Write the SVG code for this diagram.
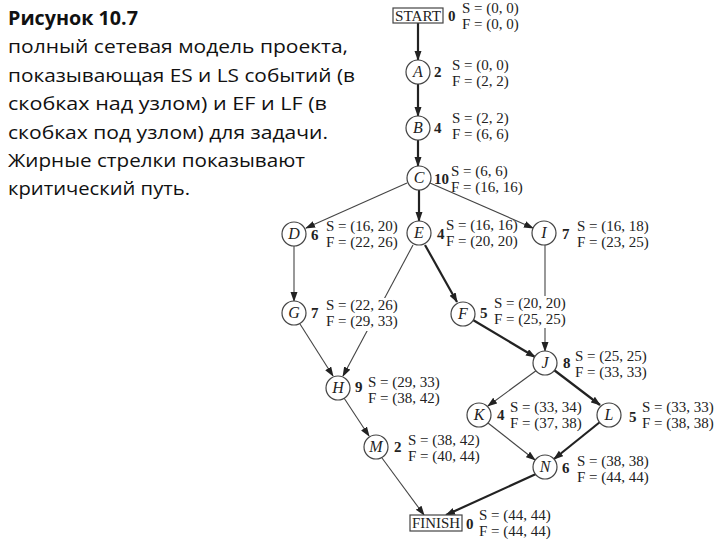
<svg xmlns="http://www.w3.org/2000/svg" width="720" height="540" viewBox="0 0 720 540">
<style>
.cap{font-family:"Open Sans","Noto Sans","DejaVu Sans",sans-serif;font-size:19px;fill:#111}
.t{font-family:"Liberation Serif","Times New Roman",serif;font-size:15px;fill:#222}
.n{font-family:"Liberation Serif","Times New Roman",serif;font-size:16px;font-style:italic;fill:#222;text-anchor:middle}
.d{font-family:"Liberation Serif","Times New Roman",serif;font-size:15px;font-weight:bold;fill:#222}
.c{fill:#fff;stroke:#444;stroke-width:1.2}
.b{fill:#fff;stroke:#444;stroke-width:1.2}
.bg{fill:#fff}
.thin{stroke:#444;stroke-width:1.1;fill:none;marker-end:url(#ah)}
.bold{stroke:#222;stroke-width:2.2;fill:none;marker-end:url(#ah)}
</style>
<defs>
<marker id="ah" markerUnits="userSpaceOnUse" markerWidth="10" markerHeight="8" refX="9" refY="3.5" orient="auto">
<path d="M0,0 L10,3.5 L0,7 Z" fill="#222"/>
</marker>
</defs>
<rect width="720" height="540" fill="#fff"/>
<g id="caption">
<text class="cap" x="8" y="25" font-weight="bold" textLength="130" lengthAdjust="spacingAndGlyphs">Рисунок 10.7</text>
<text class="cap" x="8" y="53" textLength="340" lengthAdjust="spacingAndGlyphs">полный сетевая модель проекта,</text>
<text class="cap" x="8" y="82" textLength="347" lengthAdjust="spacingAndGlyphs">показывающая ES и LS событий (в</text>
<text class="cap" x="8" y="110" textLength="319" lengthAdjust="spacingAndGlyphs">скобках над узлом) и EF и LF (в</text>
<text class="cap" x="8" y="139" textLength="320" lengthAdjust="spacingAndGlyphs">скобках под узлом) для задачи.</text>
<text class="cap" x="8" y="167" textLength="297" lengthAdjust="spacingAndGlyphs">Жирные стрелки показывают</text>
<text class="cap" x="8" y="195" textLength="182" lengthAdjust="spacingAndGlyphs">критический путь.</text>
</g>
<g id="connectors">
<line class="bold" x1="418" y1="23" x2="418" y2="60"/>
<line class="bold" x1="418" y1="84" x2="418" y2="116"/>
<line class="bold" x1="418" y1="140" x2="418" y2="166"/>
<line class="bold" x1="419" y1="190" x2="419" y2="221"/>
<line class="thin" x1="407" y1="183" x2="306" y2="228"/>
<line class="thin" x1="430" y1="183" x2="533" y2="228"/>
<line class="thin" x1="294" y1="246" x2="294" y2="301"/>
<line class="thin" x1="300" y1="324" x2="333" y2="376"/>
<line class="thin" x1="413" y1="245" x2="343" y2="376"/>
<line class="bold" x1="425" y1="245" x2="457" y2="302"/>
<line class="bold" x1="473" y1="320" x2="535" y2="357"/>
<line class="thin" x1="545" y1="244" x2="545" y2="351"/>
<line class="thin" x1="344" y1="398" x2="369" y2="436"/>
<line class="thin" x1="382" y1="458" x2="424" y2="515"/>
<line class="thin" x1="537" y1="370" x2="488" y2="406"/>
<line class="bold" x1="554" y1="370" x2="600" y2="405"/>
<line class="thin" x1="488" y1="423" x2="535" y2="460"/>
<line class="bold" x1="600" y1="422" x2="554" y2="459"/>
<line class="bold" x1="536" y1="474" x2="446" y2="515"/>
</g>
<g id="START">
<rect class="b" x="393" y="8" width="50" height="15"/>
<text class="t" x="418" y="21" text-anchor="middle" textLength="46" lengthAdjust="spacingAndGlyphs">START</text>
<text class="d" x="448" y="21">0</text>
<text class="t" x="462" y="13">S = (0, 0)</text>
<text class="t" x="462" y="29">F = (0, 0)</text>
</g>
<g id="A">
<circle class="c" cx="418" cy="72" r="12"/>
<text class="n" x="418" y="77">A</text>
<text class="d" x="434" y="77">2</text>
<text class="t" x="452" y="70">S = (0, 0)</text>
<text class="t" x="452" y="86">F = (2, 2)</text>
</g>
<g id="B">
<circle class="c" cx="418" cy="128" r="12"/>
<text class="n" x="418" y="133">B</text>
<text class="d" x="434" y="133">4</text>
<text class="t" x="452" y="123">S = (2, 2)</text>
<text class="t" x="452" y="139">F = (6, 6)</text>
</g>
<g id="C">
<circle class="c" cx="419" cy="178" r="12"/>
<text class="n" x="419" y="183">C</text>
<text class="d" x="434" y="184">10</text>
<text class="t" x="451" y="176">S = (6, 6)</text>
<text class="t" x="451" y="192">F = (16, 16)</text>
</g>
<g id="D">
<circle class="c" cx="294" cy="234" r="12"/>
<text class="n" x="294" y="239">D</text>
<text class="d" x="311" y="240">6</text>
<text class="t" x="326" y="231">S = (16, 20)</text>
<text class="t" x="326" y="247">F = (22, 26)</text>
</g>
<g id="E">
<circle class="c" cx="419" cy="233" r="12"/>
<text class="n" x="419" y="238">E</text>
<text class="d" x="437" y="239">4</text>
<text class="t" x="446" y="230">S = (16, 16)</text>
<text class="t" x="446" y="246">F = (20, 20)</text>
</g>
<g id="I">
<circle class="c" cx="544" cy="233" r="12"/>
<text class="n" x="544" y="238">I</text>
<text class="d" x="562" y="239">7</text>
<text class="t" x="577" y="231">S = (16, 18)</text>
<text class="t" x="577" y="247">F = (23, 25)</text>
</g>
<g id="G">
<circle class="c" cx="294" cy="313" r="12"/>
<text class="n" x="294" y="318">G</text>
<text class="d" x="311" y="318">7</text>
<rect class="bg" x="325" y="298" width="74" height="33"/>
<text class="t" x="326" y="310">S = (22, 26)</text>
<text class="t" x="326" y="326">F = (29, 33)</text>
</g>
<g id="F">
<circle class="c" cx="463" cy="314" r="12"/>
<text class="n" x="463" y="319">F</text>
<text class="d" x="480" y="318">5</text>
<rect class="bg" x="493" y="296" width="75" height="32"/>
<text class="t" x="494" y="308">S = (20, 20)</text>
<text class="t" x="494" y="324">F = (25, 25)</text>
</g>
<g id="J">
<circle class="c" cx="545" cy="363" r="12"/>
<text class="n" x="545" y="368">J</text>
<text class="d" x="563" y="368">8</text>
<text class="t" x="575" y="361">S = (25, 25)</text>
<text class="t" x="575" y="377">F = (33, 33)</text>
</g>
<g id="H">
<circle class="c" cx="338" cy="388" r="12"/>
<text class="n" x="338" y="393">H</text>
<text class="d" x="355" y="392">9</text>
<text class="t" x="368" y="387">S = (29, 33)</text>
<text class="t" x="368" y="403">F = (38, 42)</text>
</g>
<g id="K">
<circle class="c" cx="479" cy="415" r="12"/>
<text class="n" x="479" y="420">K</text>
<text class="d" x="497" y="420">4</text>
<text class="t" x="510" y="412">S = (33, 34)</text>
<text class="t" x="510" y="428">F = (37, 38)</text>
</g>
<g id="L">
<circle class="c" cx="609" cy="415" r="12"/>
<text class="n" x="609" y="420">L</text>
<text class="d" x="629" y="422">5</text>
<text class="t" x="642" y="412">S = (33, 33)</text>
<text class="t" x="642" y="428">F = (38, 38)</text>
</g>
<g id="M">
<circle class="c" cx="376" cy="447" r="12"/>
<text class="n" x="376" y="452">M</text>
<text class="d" x="394" y="452">2</text>
<text class="t" x="408" y="445">S = (38, 42)</text>
<text class="t" x="408" y="461">F = (40, 44)</text>
</g>
<g id="N">
<circle class="c" cx="545" cy="467" r="12"/>
<text class="n" x="545" y="472">N</text>
<text class="d" x="562" y="473">6</text>
<text class="t" x="577" y="466">S = (38, 38)</text>
<text class="t" x="577" y="482">F = (44, 44)</text>
</g>
<g id="FINISH">
<rect class="b" x="410" y="515" width="52" height="16"/>
<text class="t" x="436" y="528" text-anchor="middle" textLength="48" lengthAdjust="spacingAndGlyphs">FINISH</text>
<text class="d" x="466" y="529">0</text>
<text class="t" x="479" y="520">S = (44, 44)</text>
<text class="t" x="479" y="536">F = (44, 44)</text>
</g>
</svg>
